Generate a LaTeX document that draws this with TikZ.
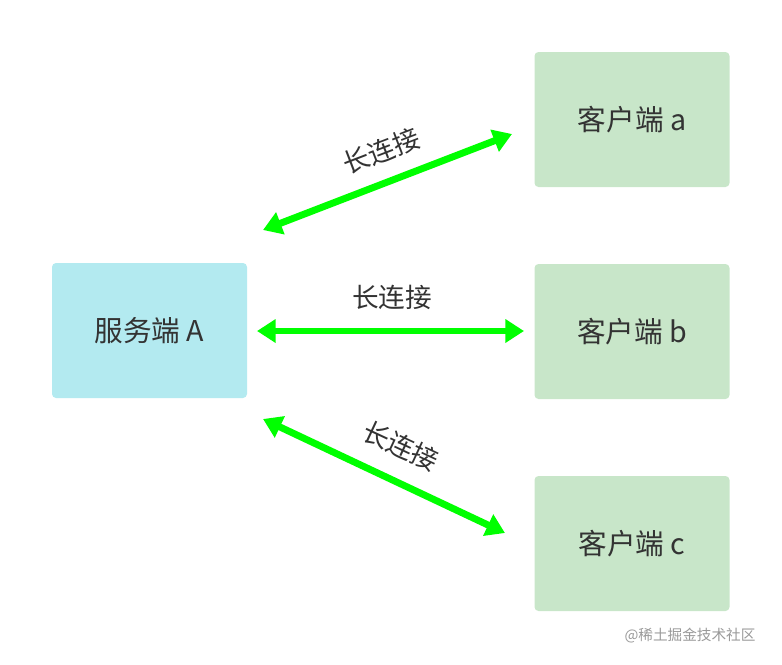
\documentclass[tikz,border=0pt]{standalone}
\usepackage{fontspec}
\setmainfont{Noto Sans CJK SC}
\usetikzlibrary{arrows.meta}
\definecolor{srv}{HTML}{B3EAF0}
\definecolor{cli}{HTML}{C8E6C9}
\definecolor{txt}{HTML}{333333}
\definecolor{grn}{HTML}{00FF00}
\begin{document}
\begin{tikzpicture}[x=0.0264cm,y=-0.0264cm,
  box/.style={rounded corners=3pt,minimum width=195*0.0264cm,minimum height=135*0.0264cm,text=txt,font=\fontsize{21.5}{24}\selectfont,inner sep=0},
  link/.style={grn,line width=5.2pt,{Triangle[length=14pt,width=17pt]}-{Triangle[length=14pt,width=17pt]}},
  lbl/.style={text=txt,font=\fontsize{20}{22}\selectfont,inner sep=0}]
\useasboundingbox (0,0) rectangle (782,664);
\node[box,fill=srv] (A) at (149.5,330.5) {服务端 A};
\node[box,fill=cli] (a) at (632,119.5) {客户端 a};
\node[box,fill=cli] (b) at (632,331.5) {客户端 b};
\node[box,fill=cli] (c) at (632,543.5) {客户端 c};
\coordinate (p1) at (263,230); \coordinate (q1) at (512,134);
\coordinate (p2) at (257,331); \coordinate (q2) at (524,331);
\coordinate (p3) at (263,419); \coordinate (q3) at (505,533);
\draw[link] (p1) -- (q1);
\draw[link] (p2) -- (q2);
\draw[link] (p3) -- (q3);
\node[lbl,rotate=21] (l1) at (381,151) {长连接};
\node[lbl] (l2) at (392,297) {长连接};
\node[lbl,rotate=-25] (l3) at (401,446) {长连接};
\node[text=gray!80,font=\fontsize{11}{12}\selectfont] (w) at (690,636) {@稀土掘金技术社区};
\end{tikzpicture}
\end{document}
